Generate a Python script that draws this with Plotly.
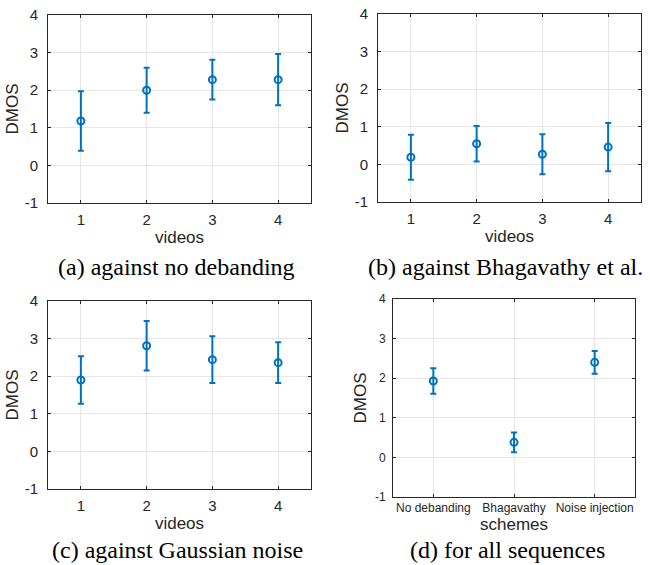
import plotly.graph_objects as go

# ---- data ----
videos = [1, 2, 3, 4]
a_mean = [1.18, 2.00, 2.28, 2.28]
a_err = [0.79, 0.60, 0.53, 0.68]
b_mean = [0.19, 0.55, 0.27, 0.46]
b_err = [0.60, 0.47, 0.53, 0.64]
c_mean = [1.90, 2.81, 2.44, 2.36]
c_err = [0.63, 0.66, 0.62, 0.54]
schemes = ["No debanding", "Bhagavathy", "Noise injection"]
d_mean = [1.93, 0.38, 2.40]
d_err = [0.32, 0.25, 0.29]
y_ticks = [-1, 0, 1, 2, 3, 4]
captions = ["(a) against no debanding", "(b) against Bhagavathy et al.",
            "(c) against Gaussian noise", "(d) for all sequences"]

W, H = 650, 565
BLUE = "#0072BD"
AX = "#262626"
GRID = "#e6e6e6"
SANS = "Liberation Sans, Arial, sans-serif"
SERIF = "Liberation Serif, Times New Roman, serif"

def px_dom(x0, x1):
    return [x0 / W, x1 / W]

def py_dom(top, bot):
    return [1 - bot / H, 1 - top / H]

panels = [
    dict(x=videos, y=a_mean, e=a_err, xd=px_dom(48, 311), yd=py_dom(15, 203), xr=[0.5, 4.5], xt="videos", fs=15),
    dict(x=videos, y=b_mean, e=b_err, xd=px_dom(378, 641), yd=py_dom(14, 202), xr=[0.5, 4.5], xt="videos", fs=15),
    dict(x=videos, y=c_mean, e=c_err, xd=px_dom(48, 311), yd=py_dom(301, 489), xr=[0.5, 4.5], xt="videos", fs=15),
    dict(x=[1, 2, 3], y=d_mean, e=d_err, xd=px_dom(393, 635), yd=py_dom(299, 497), xr=[0.5, 3.5], xt="schemes", fs=12),
]

fig = go.Figure()
layout = dict(width=W, height=H, margin=dict(l=0, r=0, t=0, b=0, autoexpand=False),
              paper_bgcolor="white", plot_bgcolor="white", showlegend=False,
              font=dict(family=SANS, color=AX), template="none")
for i, p in enumerate(panels):
    n = "" if i == 0 else str(i + 1)
    fig.add_trace(go.Scatter(
        x=p["x"], y=p["y"], mode="markers",
        marker=dict(symbol="circle-open", size=7, color=BLUE, line=dict(width=2, color=BLUE)),
        error_y=dict(type="data", array=p["e"], visible=True, color=BLUE, thickness=2, width=3),
        xaxis="x" + n, yaxis="y" + n))
    if i == 3:
        xt = dict(tickvals=[1, 2, 3], ticktext=schemes)
    else:
        xt = dict(tickvals=videos, ticktext=[str(v) for v in videos])
    layout["xaxis" + n] = dict(
        domain=p["xd"], range=p["xr"], anchor="y" + n, **xt, automargin=False,
        showgrid=True, gridcolor=GRID, gridwidth=1.3, zeroline=False,
        showline=True, linecolor=AX, linewidth=1, mirror="ticks",
        ticks="inside", ticklen=3, tickcolor=AX, ticklabelstandoff=3 if i < 3 else 0,
        ticklabeloverflow="allow",
        tickfont=dict(size=p["fs"], family=SANS, color=AX),
        title=dict(text=p["xt"], font=dict(size=17, family=SANS, color=AX), standoff=4 if i < 3 else 2))
    layout["yaxis" + n] = dict(
        domain=p["yd"], range=[-1, 4], anchor="x" + n, automargin=False,
        tickvals=y_ticks, ticktext=[str(t) for t in y_ticks],
        showgrid=True, gridcolor=GRID, gridwidth=1.3, zeroline=False,
        showline=True, linecolor=AX, linewidth=1, mirror="ticks",
        ticks="inside", ticklen=3, tickcolor=AX, ticklabelstandoff=6 if i < 3 else 4,
        ticklabeloverflow="allow",
        tickfont=dict(size=p["fs"], family=SANS, color=AX),
        title=dict(text="DMOS", font=dict(size=17, family=SANS, color=AX), standoff=1 if i < 3 else 3))

cap_pos = [(176, 267), (505, 267), (177, 550), (507, 550)]
anns = []
for (cx, cy), t in zip(cap_pos, captions):
    anns.append(dict(text=t, x=cx / W, y=1 - cy / H, xref="paper", yref="paper",
                     showarrow=False, xanchor="center", yanchor="middle",
                     font=dict(family=SERIF, size=24, color="black")))
layout["annotations"] = anns
fig.update_layout(**layout)
fig.write_html("out.html", config={"displayModeBar": False},
               post_script="document.body.style.margin='0';document.body.style.overflow='hidden';")
